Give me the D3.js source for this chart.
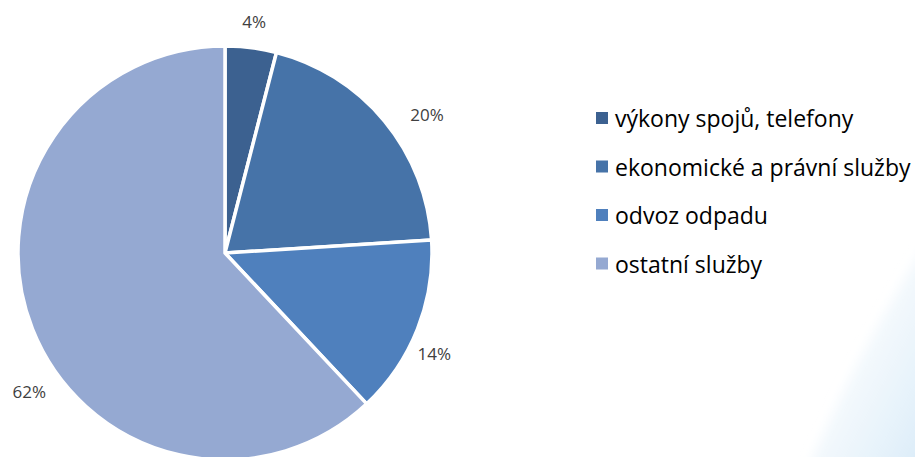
<!DOCTYPE html>
<html>
<head>
<meta charset="utf-8">
<script src="https://cdn.jsdelivr.net/npm/d3@7"></script>
<style>
  body { margin: 0; background: #fff; }
  svg { display: block; font-family: "Open Sans", "Noto Sans", sans-serif; }
</style>
</head>
<body>
<svg id="chart" width="915" height="457"></svg>
<script>
// Chart data
const categories = ['výkony spojů, telefony', 'ekonomické a právní služby', 'odvoz odpadu', 'ostatní služby'];
const shares = [4, 20, 14, 62];
const colors = ['#3c6190', '#4673a8', '#4f80bd', '#95a9d2'];

const WIDTH = 915;
const HEIGHT = 457;
const CENTER = { x: 225, y: 253 };
const RADIUS = 207;

const svg = d3.select('#chart');

// Faint light blue swoosh in the bottom right corner (background decoration)
const defs = svg.append('defs');
const grad = defs.append('linearGradient')
  .attr('id', 'swoosh')
  .attr('x1', '0%').attr('y1', '0%')
  .attr('x2', '100%').attr('y2', '100%');
grad.append('stop').attr('offset', '0%').attr('stop-color', '#ffffff').attr('stop-opacity', 0);
grad.append('stop').attr('offset', '55%').attr('stop-color', '#eaf4fb').attr('stop-opacity', 0.7);
grad.append('stop').attr('offset', '100%').attr('stop-color', '#d4e9f7').attr('stop-opacity', 1);
defs.append('filter').attr('id', 'blur')
  .append('feGaussianBlur').attr('stdDeviation', 6);
svg.append('path')
  .attr('d', `M ${WIDTH + 20} 230 C 890 300, 840 390, 805 ${HEIGHT + 20} L ${WIDTH + 20} ${HEIGHT + 20} Z`)
  .attr('fill', 'url(#swoosh)')
  .attr('filter', 'url(#blur)');

// Pie setup
const pie = d3.pie().sort(null).value(d => d);
const arcs = pie(shares);
const arc = d3.arc().innerRadius(0).outerRadius(RADIUS);

const g = svg.append('g')
  .attr('transform', `translate(${CENTER.x}, ${CENTER.y})`);

g.selectAll('.slice')
  .data(arcs)
  .join('path')
  .attr('class', 'slice')
  .attr('d', arc)
  .attr('fill', (d, i) => colors[i])
  .attr('stroke', '#fff')
  .attr('stroke-width', 3.5)
  .attr('stroke-linejoin', 'round');

// Data labels, placed outside the pie (Excel best-fit nudges)
const labelRadius = [233, 245, 232, 240];
const labelShift = [0, 0.09, 0.07, -0.24]; // radians
g.selectAll('.label')
  .data(arcs)
  .join('text')
  .attr('class', 'label')
  .attr('x', (d, i) => Math.sin((d.startAngle + d.endAngle) / 2 + labelShift[i]) * labelRadius[i])
  .attr('y', (d, i) => -Math.cos((d.startAngle + d.endAngle) / 2 + labelShift[i]) * labelRadius[i])
  .attr('text-anchor', 'middle')
  .attr('dominant-baseline', 'central')
  .attr('font-size', 17)
  .attr('fill', '#404040')
  .text(d => d.data + '%');

// Legend
const legend = svg.append('g')
  .attr('transform', 'translate(596, 118)');

const items = legend.selectAll('.item')
  .data(categories)
  .join('g')
  .attr('class', 'item')
  .attr('transform', (d, i) => `translate(0, ${i * 48.5})`);

items.append('rect')
  .attr('x', 0)
  .attr('y', -6)
  .attr('width', 12)
  .attr('height', 12)
  .attr('fill', (d, i) => colors[i]);

items.append('text')
  .attr('x', 19)
  .attr('y', 0)
  .attr('dominant-baseline', 'central')
  .attr('font-size', 23)
  .attr('fill', '#000')
  .text(d => d);
</script>
</body>
</html>
